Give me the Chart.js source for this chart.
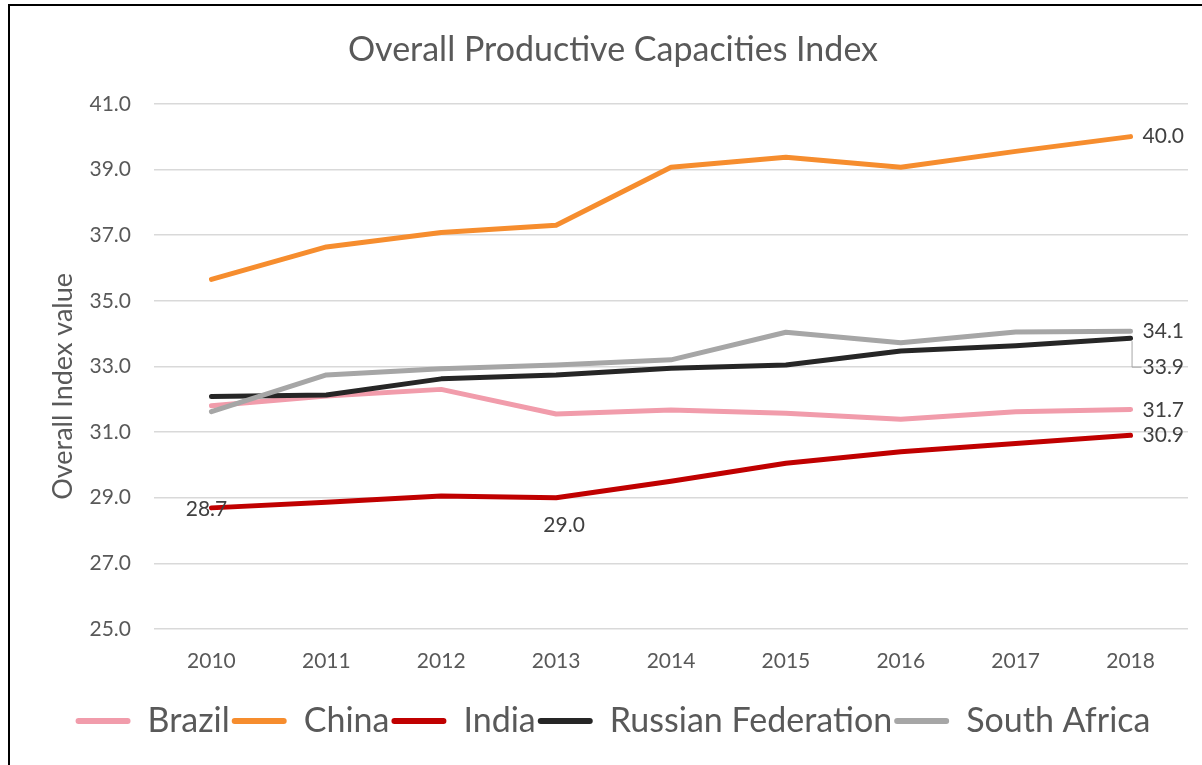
<!DOCTYPE html>
<html><head><meta charset="utf-8">
<script src="https://cdn.jsdelivr.net/npm/chart.js@4.4.0/dist/chart.umd.min.js"></script>
<style>
html,body{margin:0;padding:0;background:#fff;overflow:hidden;width:1202px;height:765px;}
#frame{position:absolute;left:8px;top:4px;width:1260px;height:800px;border-left:2px solid #000;border-top:2px solid #000;}
#wrap{position:absolute;left:0;top:0;width:1206px;height:759px;}
</style></head><body>
<div id="frame"><div id="wrap"><canvas id="c"></canvas></div></div>
<script>
const years = ['2010','2011','2012','2013','2014','2015','2016','2017','2018'];
const seriesNames = ['Brazil','China','India','Russian Federation','South Africa'];
const brazil = [31.8, 32.1, 32.3, 31.55, 31.67, 31.57, 31.39, 31.62, 31.69];
const china = [35.65, 36.64, 37.08, 37.3, 39.07, 39.37, 39.07, 39.55, 40.0];
const india = [28.69, 28.86, 29.05, 29.0, 29.5, 30.05, 30.4, 30.65, 30.9];
const russia = [32.08, 32.13, 32.62, 32.74, 32.94, 33.04, 33.47, 33.63, 33.86];
const southAfrica = [31.62, 32.74, 32.93, 33.04, 33.2, 34.04, 33.72, 34.05, 34.07];
const yMin = 25, yMax = 41, yStep = 2;
const yAxisTitle = 'Overall Index value';

const colors = ['#F19CAB', '#F68D2E', '#C00000', '#262626', '#A6A6A6'];
const allData = [brazil, china, india, russia, southAfrica];
const FONT = 'Lato';

// which points carry a value label, and how they are placed
const labelSpecs = [
  {ds: 1, i: 8, align: 'left', dx: 12, dy: 0},
  {ds: 4, i: 8, align: 'left', dx: 12, dy: 0},
  {ds: 3, i: 8, align: 'left', dx: 12, dy: 29, leader: true},
  {ds: 0, i: 8, align: 'left', dx: 12, dy: 1},
  {ds: 2, i: 8, align: 'left', dx: 12, dy: 0},
  {ds: 2, i: 0, align: 'center', dx: -5, dy: 1},
  {ds: 2, i: 3, align: 'center', dx: 8, dy: 28}
];

const labelPlugin = {
  id: 'valueLabels',
  afterDatasetsDraw(chart) {
    const ctx = chart.ctx;
    ctx.save();
    ctx.font = '21px ' + FONT;
    ctx.fillStyle = '#404040';
    ctx.textBaseline = 'middle';
    labelSpecs.forEach(s => {
      const pt = chart.getDatasetMeta(s.ds).data[s.i];
      const v = chart.data.datasets[s.ds].data[s.i];
      const x = pt.x + s.dx, y = pt.y + s.dy;
      if (s.leader) {
        ctx.save();
        ctx.strokeStyle = '#A6A6A6';
        ctx.lineWidth = 1;
        ctx.beginPath();
        ctx.moveTo(pt.x + 1.5, pt.y + 3);
        ctx.lineTo(pt.x + 1.5, y);
        ctx.lineTo(x - 1, y);
        ctx.stroke();
        ctx.restore();
      }
      ctx.textAlign = s.align;
      ctx.fillText(v.toFixed(1), x, y);
    });
    // y axis title, placed like the reference (slightly below axis centre)
    const a = chart.chartArea;
    ctx.save();
    ctx.translate(a.left - 91, (a.top + a.bottom) / 2 + 20);
    ctx.rotate(-Math.PI / 2);
    ctx.font = '27px ' + FONT;
    ctx.fillStyle = '#595959';
    ctx.textAlign = 'center';
    ctx.textBaseline = 'middle';
    ctx.fillText(yAxisTitle, 0, 0);
    ctx.restore();
    ctx.restore();
  }
};

new Chart(document.getElementById('c'), {
  type: 'line',
  data: {
    labels: years,
    datasets: seriesNames.map((n, k) => ({
      label: n,
      data: allData[k],
      borderColor: colors[k],
      backgroundColor: colors[k],
      borderWidth: 5,
      pointRadius: 0,
      pointHoverRadius: 0,
      tension: 0,
      borderCapStyle: 'round',
      borderJoinStyle: 'round',
      order: 5 - k
    }))
  },
  options: {
    responsive: true,
    maintainAspectRatio: false,
    animation: false,
    events: [],
    layout: {padding: {left: 0, right: 0, top: 0, bottom: 17}},
    plugins: {
      tooltip: {enabled: false},
      title: {
        display: true,
        text: 'Overall Productive Capacities Index',
        color: '#595959',
        font: {family: FONT, size: 34, weight: 'normal'},
        padding: {top: 24, bottom: 33}
      },
      legend: {
        position: 'bottom',
        labels: {
          color: '#595959',
          font: {family: FONT, size: 34},
          boxWidth: 55,
          boxHeight: 6,
          padding: 2,
          sort: (a, b) => a.datasetIndex - b.datasetIndex,
          generateLabels(chart) {
            const items = Chart.defaults.plugins.legend.labels.generateLabels(chart);
            items.forEach(it => {
              it.fillStyle = chart.data.datasets[it.datasetIndex].borderColor;
              it.lineWidth = 0;
              it.borderRadius = 3;
            });
            return items;
          }
        }
      }
    },
    scales: {
      x: {
        offset: true,
        grid: {display: false, drawTicks: false},
        border: {display: false},
        ticks: {color: '#595959', font: {family: FONT, size: 21}, padding: 20},
        afterFit(s) { s.height = 73; }
      },
      y: {
        min: yMin, max: yMax,
        grid: {color: '#D9D9D9', lineWidth: 1.5, drawTicks: false},
        border: {display: false},
        ticks: {
          stepSize: yStep,
          color: '#595959',
          font: {family: FONT, size: 21},
          padding: 23,
          callback: v => Number(v).toFixed(1)
        },
        title: {display: false},
        afterFit(s) { s.width = 144; }
      },
      y2: {
        position: 'right',
        display: true,
        grid: {display: false, drawTicks: false},
        border: {display: false},
        ticks: {display: false},
        afterFit(s) { s.width = 28; }
      }
    }
  },
  plugins: [labelPlugin]
});
</script>
</body></html>
